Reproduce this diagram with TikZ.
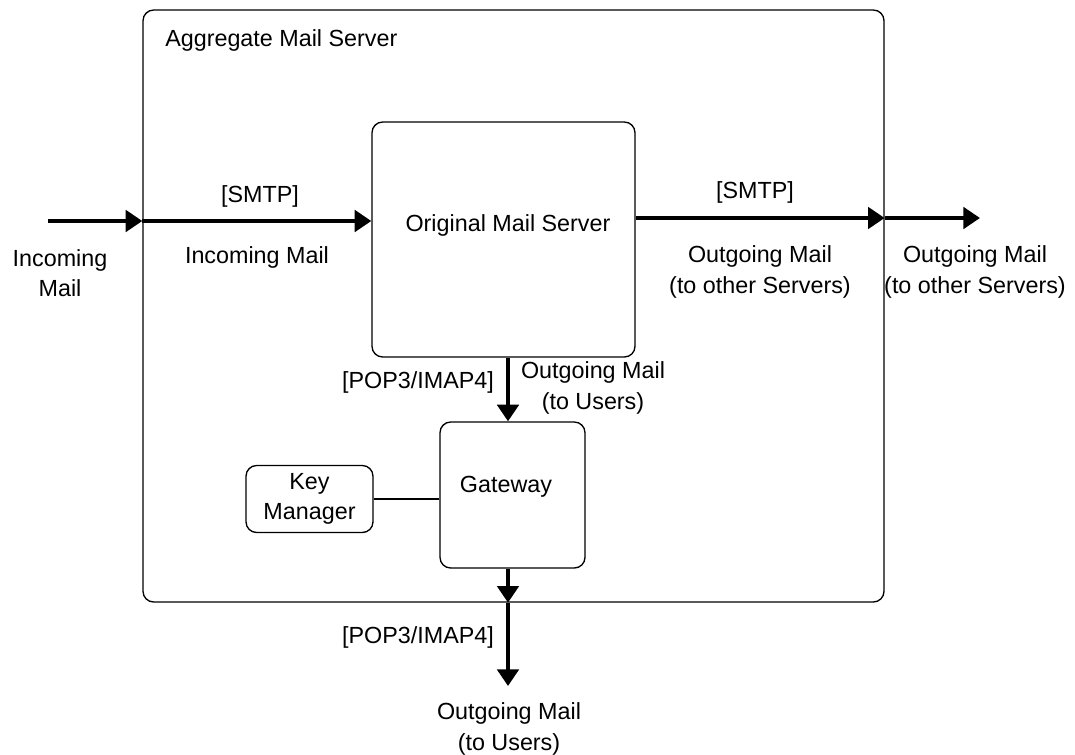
\documentclass[tikz,border=0pt]{standalone}
\usepackage{fontspec}
\setmainfont{Liberation Sans}
\usetikzlibrary{arrows.meta}
\begin{document}
\begin{tikzpicture}[x=0.75pt,y=-0.75pt,
  every node/.style={font=\fontsize{17.5}{23}\selectfont, align=center, inner sep=0pt},
  box/.style={draw, line width=1pt, rounded corners=8pt},
  flow/.style={line width=3pt, -{Triangle[length=12.5pt,width=16pt]}},
  link/.style={line width=2.2pt}]
\useasboundingbox (0,0) rectangle (1075,754);

% enclosing server
\node[box, minimum width=741*0.75pt, minimum height=592*0.75pt] (agg) at (513.5,306) {};
\node[anchor=west] (aggtext) at (165,40) {Aggregate Mail Server};

% inner components
\node[box, minimum width=263*0.75pt, minimum height=235*0.75pt] (orig) at (503.5,239.5) {};
\node (origtext) at (508,225) {Original Mail Server};
\node[box, minimum width=145*0.75pt, minimum height=146*0.75pt] (gw) at (512.5,495) {};
\node (gwtext) at (506,487) {Gateway};
\node[box, minimum width=127*0.75pt, minimum height=67*0.75pt] (km) at (309.5,499) {Key\\Manager};

% incoming mail
\coordinate (inA) at (48,221);
\draw[flow] (inA) -- (inA -| agg.west);
\draw[flow] (inA -| agg.west) -- (inA -| orig.west);
\node (inlbl) at (60,273) {Incoming\\Mail};
\node (smtpin) at (260,196) {[SMTP]};
\node (inmail) at (257,257) {Incoming Mail};

% outgoing mail to other servers
\coordinate (outA) at (980,218);
\draw[flow] (outA -| orig.east) -- (outA -| agg.east);
\draw[flow] (outA -| agg.east) -- (outA);
\node (smtpout) at (755,192) {[SMTP]};
\node (outsrv) at (760,272) {Outgoing Mail\\(to other Servers)};
\node (outsrvx) at (975,272) {Outgoing Mail\\(to other Servers)};

% mail to users via gateway
\coordinate (usr) at (508,686);
\draw[flow] (usr |- orig.south) -- (usr |- gw.north);
\draw[flow] (usr |- gw.south) -- (usr |- agg.south);
\draw[flow] (usr |- agg.south) -- (usr);
\node (pop1) at (418,382) {[POP3/IMAP4]};
\node (outusr) at (593,388) {Outgoing Mail\\(to Users)};
\node (pop2) at (418,637) {[POP3/IMAP4]};
\node (outusrx) at (509,729) {Outgoing Mail\\(to Users)};

% key manager link
\draw[link] (km.east) -- (km.east -| gw.west);
\end{tikzpicture}
\end{document}
